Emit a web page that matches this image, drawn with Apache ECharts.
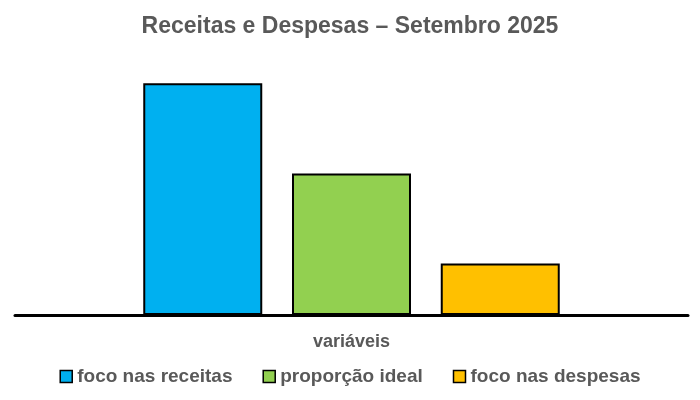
<!DOCTYPE html>
<html>
<head>
<meta charset="utf-8">
<script src="https://cdn.jsdelivr.net/npm/echarts@6/dist/echarts.min.js"></script>
<style>html,body{margin:0;padding:0;background:#fff}#c{width:700px;height:400px}</style>
</head>
<body>
<div id="c"></div>
<script>
const categories = ['variáveis'];
const seriesNames = ['foco nas receitas', 'proporção ideal', 'foco nas despesas'];
const focoReceitas = [4.5];
const proporcaoIdeal = [2.75];
const focoDespesas = [1];
const colors = ['#00B0F0', '#92D050', '#FFC000'];
const seriesValues = [focoReceitas, proporcaoIdeal, focoDespesas];

const chart = echarts.init(document.getElementById('c'));
const font = 'Liberation Sans, Arial, sans-serif';
chart.setOption({
  animation: false,
  title: {
    text: 'Receitas e Despesas – Setembro 2025',
    left: 'center', top: 10,
    padding: [5, 0, 5, 10],
    textStyle: { fontFamily: font, fontSize: 23, fontWeight: 'bold', color: '#595959' }
  },
  legend: {
    bottom: 9, left: 'center',
    padding: [5, 0, 5, 6],
    itemWidth: 12, itemHeight: 12, itemGap: 30,
    icon: 'rect',
    textStyle: { fontFamily: font, fontSize: 19, fontWeight: 'bold', color: '#595959', padding: [0, 0, 0, 0] },
    data: seriesNames.map((n, i) => ({ name: n, itemStyle: { color: colors[i], borderColor: '#000', borderWidth: 1.5 } }))
  },
  grid: { left: 15, right: 12, top: 57.5, bottom: 85 },
  xAxis: {
    type: 'category', data: categories,
    axisLine: { lineStyle: { color: '#000', width: 3 } },
    axisTick: { show: false },
    axisLabel: { fontFamily: font, fontSize: 18, fontWeight: 'bold', color: '#595959', margin: 18 }
  },
  yAxis: { type: 'value', min: 0, max: 5, show: false, splitLine: { show: false } },
  series: seriesValues.map((v, i) => ({
    name: seriesNames[i], type: 'bar', data: v,
    barWidth: 119, barGap: '25%',
    itemStyle: { color: colors[i], borderColor: '#000', borderWidth: 2 }
  }))
});
</script>
</body>
</html>
